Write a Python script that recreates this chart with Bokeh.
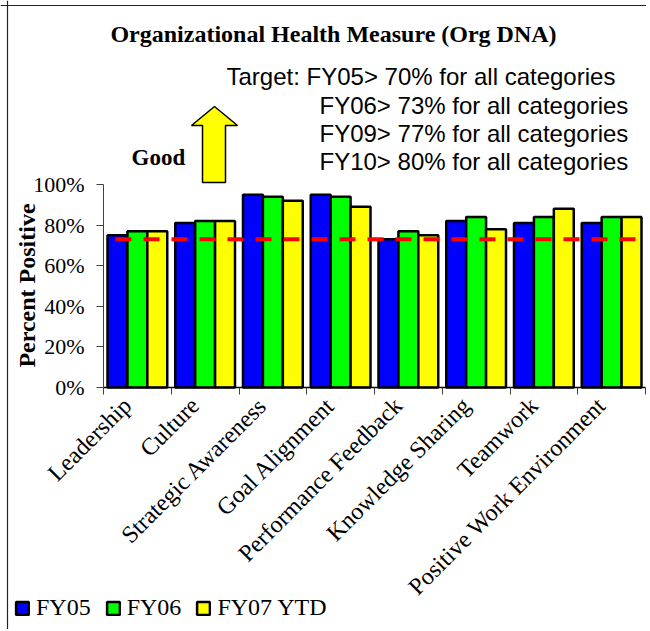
from math import pi
from bokeh.plotting import figure
from bokeh.models import Range1d, FixedTicker, NumeralTickFormatter, Span, Legend, LegendItem
from bokeh.core.properties import value
from bokeh.embed import file_html
from bokeh.resources import INLINE

# ---------------- data ----------------
categories = ["Leadership", "Culture", "Strategic Awareness", "Goal Alignment",
              "Performance Feedback", "Knowledge Sharing", "Teamwork",
              "Positive Work Environment"]
fy05 = [0.75, 0.81, 0.95, 0.95, 0.73, 0.82, 0.81, 0.81]
fy06 = [0.77, 0.82, 0.94, 0.94, 0.77, 0.84, 0.84, 0.84]
fy07_ytd = [0.77, 0.82, 0.92, 0.89, 0.75, 0.78, 0.88, 0.84]
series_names = ["FY05", "FY06", "FY07 YTD"]
series_colors = ["#0000FF", "#00FF00", "#FFFF00"]
target = 0.73
y_ticks = [0, 0.2, 0.4, 0.6, 0.8, 1.0]
title_text = "Organizational Health Measure (Org DNA)"
target_lines = ["Target: FY05> 70% for all categories",
                "FY06> 73% for all categories",
                "FY09> 77% for all categories",
                "FY10> 80% for all categories"]
good_text = "Good"
y_label = "Percent Positive"

# ---------------- layout (pixel constants) ----------------
SERIF = "Liberation Serif"
SANS = "Liberation Sans"
W, H = 646, 629
n = len(categories)
X0_PX, XN_PX = 103, 645          # x=0 and x=n positions
Y0_PX, Y1_PX = 387, 184          # y=0 and y=1 positions
UX = (XN_PX - X0_PX) / n
UY = (Y0_PX - Y1_PX)


def px2x(px):
    return (px - X0_PX) / UX


def py2y(py):
    return (Y0_PX - py) / UY


p = figure(width=W, height=H,
           x_range=Range1d(px2x(0), px2x(W)), y_range=Range1d(py2y(H), py2y(0)),
           output_backend="svg", toolbar_location=None,
           min_border_left=0, min_border_right=0, min_border_top=0, min_border_bottom=0,
           background_fill_color="white", border_fill_color="white")
p.outline_line_color = None
p.xgrid.visible = False
p.ygrid.visible = False

# frame border of the original picture (top and left edges)
p.add_layout(Span(location=px2x(7), dimension="height", line_color="#222222", line_width=1.2))
p.add_layout(Span(location=py2y(5), dimension="width", line_color="#222222", line_width=1.2))

# bars
bar_w = 0.294
xs = [i + 0.5 for i in range(n)]
items = []
for k, (vals, name, col) in enumerate(zip([fy05, fy06, fy07_ytd], series_names, series_colors)):
    off = (k - 1) * bar_w
    r = p.vbar(x=[x + off for x in xs], top=vals, width=bar_w, bottom=0,
               fill_color=col, line_color="black", line_width=2.5)
    items.append(LegendItem(label=name, renderers=[r]))

# target line
p.segment(x0=[px2x(115)], x1=[px2x(W)], y0=[target], y1=[target],
          line_color="#FF0000", line_width=4, line_dash="16 12")

# y axis
ya = p.yaxis[0]
ya.fixed_location = 0
ya.ticker = FixedTicker(ticks=y_ticks)
ya.formatter = NumeralTickFormatter(format="0%")
ya.bounds = (0, 1)
ya.major_label_text_font = SERIF
ya.major_label_text_font_size = "22px"
ya.major_label_text_color = "black"
ya.major_label_standoff = 12
ya.major_tick_out = 7
ya.major_tick_in = 0
ya.minor_tick_line_color = None
ya.axis_line_color = "#404040"
ya.major_tick_line_color = "#404040"

# x axis
label_shift = 0.15
xa = p.xaxis[0]
xa.fixed_location = 0
xa.bounds = (0, n)
xa.ticker = FixedTicker(ticks=[x - label_shift for x in xs], minor_ticks=list(range(n + 1)))
xa.major_label_overrides = {x - label_shift: c for x, c in zip(xs, categories)}
xa.major_label_orientation = pi / 4
xa.major_label_text_font = SERIF
xa.major_label_text_font_size = "24px"
xa.major_label_text_color = "black"
xa.major_label_standoff = 7
xa.major_tick_line_color = None
xa.major_tick_out = 7
xa.minor_tick_out = 7
xa.minor_tick_in = 0
xa.minor_tick_line_color = "#404040"
xa.axis_line_color = "black"
xa.axis_line_width = 1.5

# y axis title (drawn as text because fixed-location axes have no label)
p.text(x=[px2x(26)], y=[py2y(285)], text=[y_label], angle=pi / 2, text_font=value(SERIF),
       text_font_style="bold", text_font_size="24px", text_align="center",
       text_baseline="middle", text_color="black")

# chart title
p.text(x=[px2x(333)], y=[py2y(33)], text=[title_text], text_font=value(SERIF),
       text_font_style="bold", text_font_size="24px", text_align="center",
       text_baseline="alphabetic", text_color="black")

# target text
tx = [px2x(226)] + [px2x(319)] * 3
ty = [py2y(b) for b in (76, 104.5, 133, 161)]
p.text(x=tx, y=ty, text=target_lines, text_font=value(SANS), text_font_size="24px",
       text_align="left", text_baseline="alphabetic", text_color="black")

# "Good" label
p.text(x=[px2x(131)], y=[py2y(157)], text=[good_text], text_font=value(SERIF),
       text_font_style="bold", text_font_size="23px", text_align="left",
       text_baseline="alphabetic", text_color="black")

# arrow shape
arrow_px = [(214, 106), (237, 125), (225, 125), (225, 182), (202, 182), (202, 125), (191, 125)]
p.patch(x=[px2x(a) for a, b in arrow_px], y=[py2y(b) for a, b in arrow_px],
        fill_color="#FFFF00", line_color="black", line_width=1.5)

# legend
legend = Legend(items=items, orientation="horizontal", location=(14, 8),
                glyph_width=16, glyph_height=16, label_standoff=6, spacing=14,
                padding=0, margin=0, background_fill_alpha=0, border_line_color=None,
                label_text_font=SERIF, label_text_font_size="24px",
                label_text_color="black", label_height=24)
p.add_layout(legend)

open("out.html", "w").write(file_html(p, INLINE))
